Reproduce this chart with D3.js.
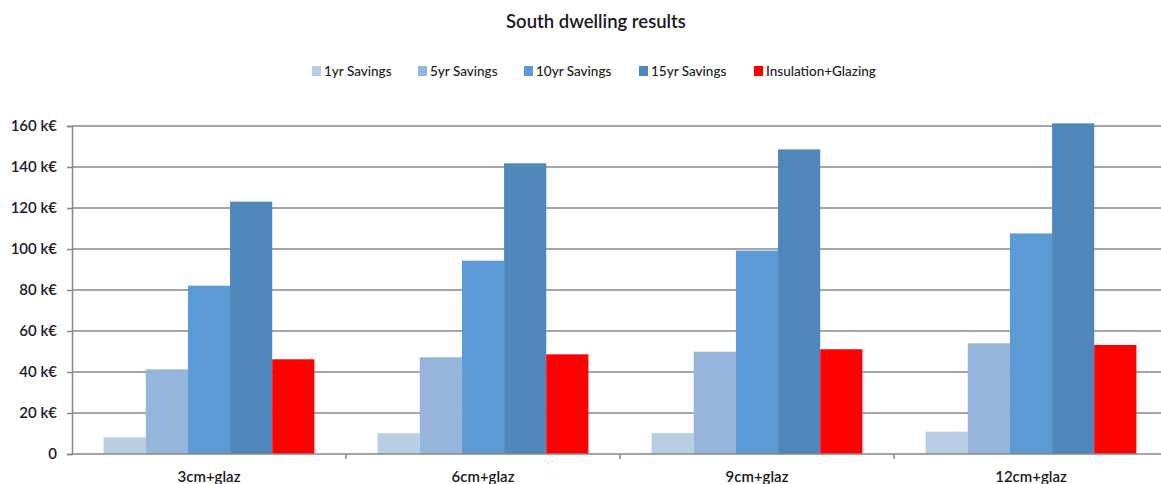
<!DOCTYPE html>
<html>
<head>
<meta charset="utf-8">
<script src="https://cdn.jsdelivr.net/npm/d3@7/dist/d3.min.js"></script>
<style>
  html, body { margin: 0; padding: 0; background: #fff; }
  svg { display: block; font-family: Lato, "Open Sans", sans-serif; }
</style>
</head>
<body>
<svg id="chart" width="1161" height="484"></svg>
<script>
// Chart data
const categories = ["3cm+glaz", "6cm+glaz", "9cm+glaz", "12cm+glaz"];
const seriesNames = ["1yr Savings", "5yr Savings", "10yr Savings", "15yr Savings", "Insulation+Glazing"];
const savings1yr  = [8.1, 10.1, 10.2, 10.9];
const savings5yr  = [41.3, 47.2, 49.9, 54.0];
const savings10yr = [82.1, 94.3, 99.2, 107.6];
const savings15yr = [123.1, 141.8, 148.6, 161.3];
const insulationGlazing = [46.2, 48.6, 51.1, 53.2];
const yTicks = [0, 20, 40, 60, 80, 100, 120, 140, 160];
const colors = ["#B9CDE5", "#95B5DB", "#5B9AD5", "#4F87BA", "#FF0000"];

const seriesValues = [savings1yr, savings5yr, savings10yr, savings15yr, insulationGlazing];

const svg = d3.select("#chart");
const W = 1161;

const plotLeft = 72, plotRight = 1168, plotTop = 126, plotBottom = 454;

const x0 = d3.scaleBand().domain(categories).range([plotLeft, plotRight]).paddingInner(0).paddingOuter(0);
const bw = x0.bandwidth();
const gap = bw * 0.75 / 6.5;
const x1 = d3.scaleBand().domain(seriesNames).range([gap, bw - gap]).padding(0);
const y = d3.scaleLinear().domain([0, 160]).range([plotBottom, plotTop]);

// Title
svg.append("text")
  .attr("x", 596).attr("y", 28)
  .attr("text-anchor", "middle")
  .attr("font-size", 18.5).attr("font-weight", 600)
  .attr("fill", "#1a1a1a")
  .text("South dwelling results");

// Horizontal gridlines
svg.append("g").selectAll("line")
  .data(yTicks.filter(t => t > 0))
  .join("line")
  .attr("x1", plotLeft).attr("x2", W)
  .attr("y1", d => y(d)).attr("y2", d => y(d))
  .attr("stroke", "#878787").attr("stroke-width", 1.5);

// Bars
const groups = svg.append("g").selectAll("g")
  .data(categories)
  .join("g")
  .attr("transform", d => `translate(${x0(d)},0)`);

groups.selectAll("rect")
  .data((c, ci) => seriesNames.map((s, si) => ({ s, si, v: seriesValues[si][ci] })))
  .join("rect")
  .attr("x", d => x1(d.s))
  .attr("width", x1.bandwidth())
  .attr("y", d => y(d.v))
  .attr("height", d => plotBottom - y(d.v))
  .attr("fill", d => colors[d.si]);

// Y axis
const yAxis = svg.append("g")
  .attr("transform", `translate(${plotLeft},0)`)
  .call(d3.axisLeft(y).tickValues(yTicks).tickSize(5).tickPadding(10)
    .tickFormat(d => d === 0 ? "0" : d + " k€"));
yAxis.select(".domain").attr("stroke", "#878787").attr("stroke-width", 1.5);
yAxis.selectAll(".tick line").attr("stroke", "#878787").attr("stroke-width", 1.5);
yAxis.selectAll("text")
  .attr("font-size", 15).attr("font-weight", 600)
  .attr("fill", "#1a1a2e").attr("font-family", "Lato, sans-serif");

// X axis
const xAxis = svg.append("g")
  .attr("transform", `translate(0,${plotBottom})`)
  .call(d3.axisBottom(x0).tickSize(0).tickPadding(17));
xAxis.select(".domain").remove();
xAxis.selectAll("text")
  .attr("font-size", 15).attr("font-weight", 600)
  .attr("fill", "#1a1a1a").attr("font-family", "Lato, sans-serif");
svg.append("line")
  .attr("x1", plotLeft).attr("x2", W)
  .attr("y1", plotBottom).attr("y2", plotBottom)
  .attr("stroke", "#878787").attr("stroke-width", 1.5);
// Category separator ticks
svg.append("g").selectAll("line")
  .data(categories.slice(1))
  .join("line")
  .attr("x1", d => x0(d)).attr("x2", d => x0(d))
  .attr("y1", plotBottom).attr("y2", plotBottom + 5)
  .attr("stroke", "#878787").attr("stroke-width", 1.5);

// Legend
const legendX = [312, 418, 524, 639, 754];
const legend = svg.append("g").selectAll("g")
  .data(seriesNames)
  .join("g")
  .attr("transform", (d, i) => `translate(${legendX[i]},66)`);
legend.append("rect")
  .attr("width", 9).attr("height", 10)
  .attr("fill", (d, i) => colors[i]);
legend.append("text")
  .attr("x", 12).attr("y", 10)
  .attr("font-size", 13.5).attr("font-weight", 500)
  .attr("fill", "#1a1a1a")
  .text(d => d);
</script>
</body>
</html>
